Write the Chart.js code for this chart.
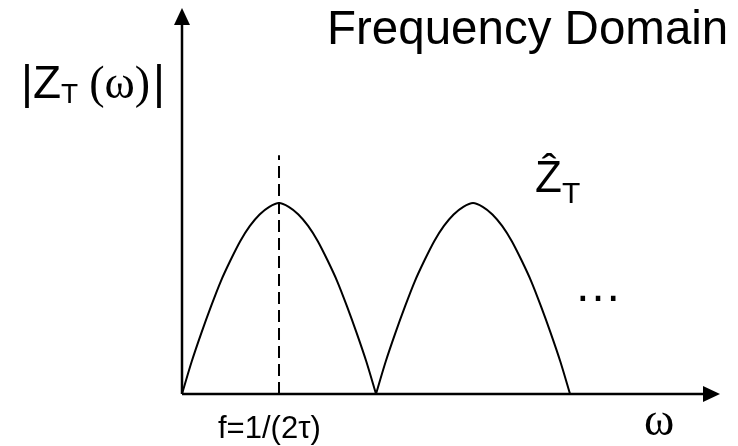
<!DOCTYPE html>
<html>
<head>
<meta charset="utf-8">
<script src="https://cdn.jsdelivr.net/npm/chart.js@4/dist/chart.umd.min.js"></script>
<style>
  html, body { margin: 0; padding: 0; background: #fff; }
  #wrap { width: 738px; height: 446px; }
</style>
</head>
<body>
<div id="wrap"><canvas id="chart" width="738" height="446"></canvas></div>
<script>
// omega, in units where f = 1/(2tau) sits at 1
var omega1 = [0, 0.1, 0.2, 0.3, 0.4, 0.5, 0.6, 0.7, 0.8, 0.9, 1.0, 1.1, 1.2, 1.3, 1.4, 1.5, 1.6, 1.7, 1.8, 1.9, 2.0];
var omega2 = [2.0, 2.1, 2.2, 2.3, 2.4, 2.5, 2.6, 2.7, 2.8, 2.9, 3.0, 3.1, 3.2, 3.3, 3.4, 3.5, 3.6, 3.7, 3.8, 3.9, 4.0];
// |Z_T(omega)|, peak = 1
var mag1 = [0, 0.17, 0.32, 0.46, 0.59, 0.70, 0.80, 0.88, 0.94, 0.98, 1.0, 0.98, 0.94, 0.88, 0.80, 0.70, 0.59, 0.46, 0.32, 0.17, 0];
var mag2 = [0, 0.17, 0.32, 0.46, 0.59, 0.70, 0.80, 0.88, 0.94, 0.98, 1.0, 0.98, 0.94, 0.88, 0.80, 0.70, 0.59, 0.46, 0.32, 0.17, 0];
// dashed marker at f
var markX = [1, 1];
var markY = [0, 1.25];

function pts(xs, ys) {
  var out = [];
  for (var i = 0; i < xs.length; i++) out.push({x: xs[i], y: ys[i]});
  return out;
}

var SANS = '"Liberation Sans", Arial, sans-serif';
var SERIF = '"Liberation Serif", "Times New Roman", serif';

var decor = {
  id: 'decor',
  afterDatasetsDraw: function(chart) {
    var c = chart.ctx;
    var xs = chart.scales.x, ys = chart.scales.y;
    var x0 = xs.getPixelForValue(0), y0 = ys.getPixelForValue(0);
    var xr = xs.right, yt = ys.top;
    c.save();
    c.strokeStyle = '#000';
    c.fillStyle = '#000';
    c.lineWidth = 2.5;
    c.setLineDash([]);
    // axes
    c.beginPath();
    c.moveTo(x0, y0); c.lineTo(x0, yt + 14);
    c.moveTo(x0, y0); c.lineTo(xr - 14, y0);
    c.stroke();
    // arrow heads
    c.beginPath();
    c.moveTo(x0, yt); c.lineTo(x0 - 8, yt + 17); c.lineTo(x0 + 8, yt + 17); c.closePath();
    c.fill();
    c.beginPath();
    c.moveTo(xr, y0); c.lineTo(xr - 17, y0 - 8); c.lineTo(xr - 17, y0 + 8); c.closePath();
    c.fill();

    c.textBaseline = 'alphabetic';
    c.textAlign = 'left';
    // title
    c.font = '47.5px ' + SANS;
    c.fillText('Frequency Domain', 327, 44);

    // |Z_T (omega)|
    var x = 21;
    c.font = '46px ' + SANS;
    c.fillText('|Z', x, 98); x += c.measureText('|Z').width;
    c.font = '28px ' + SANS;
    c.fillText('T', x, 103); x += c.measureText('T').width + 11;
    c.font = '46px ' + SERIF;
    c.fillText('(\u03c9)', x, 98); x += c.measureText('(\u03c9)').width + 3;
    c.font = '46px ' + SANS;
    c.fillText('|', x, 98);

    // Z hat T
    c.font = '44px ' + SANS;
    c.fillText('\u1E90', 535, 192);
    var zw = c.measureText('\u1E90').width;
    c.font = '30px ' + SANS;
    c.fillText('T', 535 + zw, 203);

    // ellipsis
    c.font = '48px ' + SANS;
    c.fillText('\u2026', 574, 301);

    // label at f
    c.font = '31px ' + SANS;
    c.fillText('f=1/(2\u03c4)', 218, 438);

    // omega axis label
    c.font = '46px ' + SERIF;
    c.fillText('\u03c9', 644, 435);
    c.restore();
  }
};

var ctx = document.getElementById('chart').getContext('2d');
var myChart = new Chart(ctx, {
  type: 'line',
  data: {
    datasets: [
      { data: pts(omega1, mag1), borderColor: '#000', borderWidth: 2, pointRadius: 0, tension: 0.3, fill: false },
      { data: pts(omega2, mag2), borderColor: '#000', borderWidth: 2, pointRadius: 0, tension: 0.3, fill: false },
      { data: pts(markX, markY), borderColor: '#000', borderWidth: 2, borderDash: [12, 6], pointRadius: 0, fill: false }
    ]
  },
  options: {
    responsive: false,
    animation: false,
    layout: { padding: { left: 182, right: 18, top: 8, bottom: 52 } },
    plugins: { legend: { display: false }, tooltip: { enabled: false } },
    scales: {
      x: { type: 'linear', min: 0, max: 5.546, display: false },
      y: { min: 0, max: 2.021, display: false }
    }
  },
  plugins: [decor]
});
</script>
</body>
</html>
